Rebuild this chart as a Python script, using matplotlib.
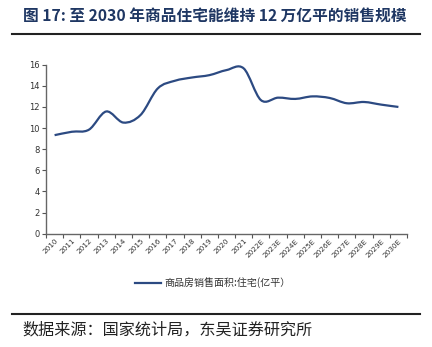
import matplotlib
matplotlib.use("Agg")
import matplotlib.pyplot as plt
from matplotlib.path import Path
from matplotlib.patches import PathPatch
from matplotlib.lines import Line2D
import numpy as np

plt.rcParams['font.family'] = ['Noto Sans CJK SC', 'DejaVu Sans']

years = ['2010', '2011', '2012', '2013', '2014', '2015', '2016', '2017', '2018', '2019',
         '2020', '2021', '2022E', '2023E', '2024E', '2025E', '2026E', '2027E', '2028E',
         '2029E', '2030E']
sales = [9.33, 9.65, 9.85, 11.57, 10.52, 11.24, 13.75, 14.48, 14.79, 15.01,
         15.49, 15.65, 12.65, 12.88, 12.76, 13.0, 12.85, 12.35, 12.47, 12.22, 12.0]
series_name = '商品房销售面积:住宅(亿平）'
title = '图 17: 至 2030 年商品住宅能维持 12 万亿平的销售规模'
source = '数据来源：国家统计局，东吴证券研究所'

LINE_COLOR = '#2c4a82'
W, H = 432, 347
fig = plt.figure(figsize=(W / 100, H / 100), dpi=100)

ax = fig.add_axes([46 / W, 1 - 233.7 / H, (407 - 46) / W, (233.7 - 64.7) / H])

x = np.arange(len(years), dtype=float)
y = np.array(sales, dtype=float)

# smooth curve (Catmull-Rom -> cubic Bezier) through the data points
verts = [(x[0], y[0])]
codes = [Path.MOVETO]
n = len(x)
for i in range(n - 1):
    p0 = np.array([x[max(i - 1, 0)], y[max(i - 1, 0)]])
    p1 = np.array([x[i], y[i]])
    p2 = np.array([x[i + 1], y[i + 1]])
    p3 = np.array([x[min(i + 2, n - 1)], y[min(i + 2, n - 1)]])
    c1 = p1 + (p2 - p0) / 6.0
    c2 = p2 - (p3 - p1) / 6.0
    verts += [tuple(c1), tuple(c2), tuple(p2)]
    codes += [Path.CURVE4] * 3
ax.add_patch(PathPatch(Path(verts, codes), facecolor='none', edgecolor=LINE_COLOR,
                       lw=1.6, capstyle='butt'))

ax.set_xlim(-0.5, n - 0.5)
ax.set_ylim(0, 16)
ax.set_yticks(np.arange(0, 17, 2))
ax.set_yticklabels([str(v) for v in range(0, 17, 2)], fontsize=6, color='#333333',
                   family='DejaVu Sans')
ax.set_xticks(x)
ax.set_xticklabels(years, rotation=45, ha='right', rotation_mode='anchor',
                   fontsize=5.2, color='#333333', family='DejaVu Sans')
ax.set_xticks(np.arange(-0.5, n, 1.0), minor=True)
ax.tick_params(axis='x', which='major', length=0, pad=3)
ax.tick_params(axis='x', which='minor', length=3, width=0.8, color='#555555', direction='out')
ax.tick_params(axis='y', length=3, width=0.8, color='#555555', direction='out', pad=1.5)
for s in ['top', 'right']:
    ax.spines[s].set_visible(False)
for s in ['left', 'bottom']:
    ax.spines[s].set_color('#666666')
    ax.spines[s].set_linewidth(1.0)

# legend
h = Line2D([0], [0], color=LINE_COLOR, lw=1.6)
fig.legend([h], [series_name], loc='center', bbox_to_anchor=(213 / W, 1 - 283 / H),
           frameon=False, handlelength=2.6, handletextpad=0.4,
           prop={'family': ['Noto Sans CJK SC', 'DejaVu Sans'], 'size': 7.2},
           labelcolor='#333333')

# title and rules
fig.text(23 / W, 1 - 17 / H, title, fontsize=11.3, fontweight='bold', color='#1f3763',
         va='center', ha='left')
fig.add_artist(Line2D([12 / W, 420 / W], [1 - 33.5 / H, 1 - 33.5 / H], color='#222222', lw=1.5))
fig.add_artist(Line2D([12 / W, 420 / W], [1 - 313.5 / H, 1 - 313.5 / H], color='#222222', lw=1.5))
fig.text(22 / W, 1 - 330 / H, source, fontsize=11.6, color='#222222', va='center', ha='left')

fig.savefig('out.png', dpi=100)
